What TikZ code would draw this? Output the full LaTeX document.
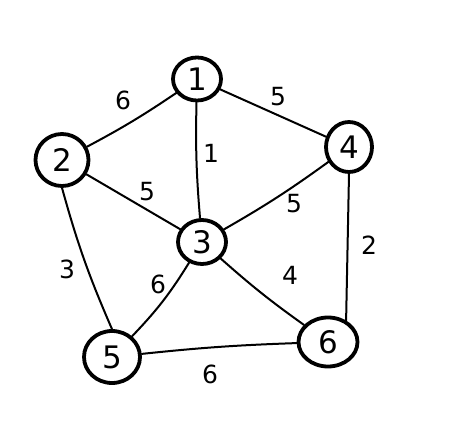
\documentclass[tikz,border=0pt]{standalone}
\usepackage{fontspec}
\setmainfont{DejaVu Sans}
\usetikzlibrary{shapes.geometric}
\begin{document}
\begin{tikzpicture}[x=1pt,y=-1pt,
  vtx/.style={ellipse,draw,line width=3.8pt,inner sep=0pt,font=\fontsize{31}{31}\selectfont},
  edge/.style={line width=2pt,line cap=round},
  wlab/.style={font=\fontsize{25}{25}\selectfont,inner sep=0pt}]
\useasboundingbox (0,0) rectangle (473,422);
\node[vtx,minimum width=48,minimum height=43] (n1) at (197,79) {1};
\node[vtx,minimum width=53,minimum height=52] (n2) at (62,160) {2};
\node[vtx,minimum width=48,minimum height=44] (n3) at (202,242) {3};
\node[vtx,minimum width=46,minimum height=50] (n4) at (349,147) {4};
\node[vtx,minimum width=56,minimum height=52] (n5) at (112,357) {5};
\node[vtx,minimum width=59,minimum height=49] (n6) at (328,342) {6};
\draw[edge] (n1) to[bend left=3] (n2);
\draw[edge] (n1) -- (n4);
\draw[edge] (n1) to[bend right=3] (n3);
\draw[edge] (n2) -- (n3);
\draw[edge] (n4) to[bend left=3] (n3);
\draw[edge] (n4.south) -- (n6.50);
\draw[edge] (n2.south) to[bend right=4] (n5.north);
\draw[edge] (n3) to[bend left=6] (n5);
\draw[edge] (n3) to[bend right=3] (n6);
\draw[edge] (n5) to[bend left=2] (n6);
\node[wlab] (w12) at (123,100) {6};
\node[wlab] (w14) at (278,97) {5};
\node[wlab] (w13) at (211,153) {1};
\node[wlab] (w23) at (147,192) {5};
\node[wlab] (w43) at (294,204) {5};
\node[wlab] (w46) at (369,245) {2};
\node[wlab] (w25) at (67,269) {3};
\node[wlab] (w35) at (158,284) {6};
\node[wlab] (w36) at (290,275) {4};
\node[wlab] (w56) at (210,374) {6};
\end{tikzpicture}
\end{document}
